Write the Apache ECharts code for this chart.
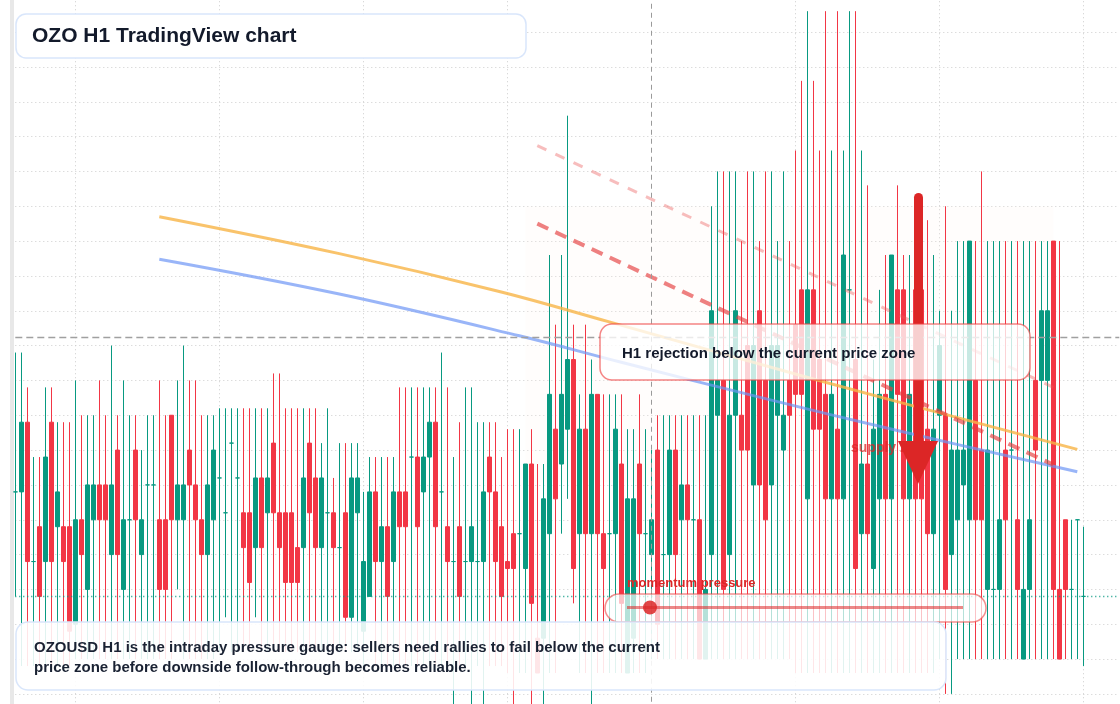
<!DOCTYPE html>
<html>
<head>
<meta charset="utf-8">
<title>OZO H1 TradingView chart</title>
<script src="https://cdn.jsdelivr.net/npm/echarts@6/dist/echarts.min.js"></script>
<style>
  html, body { margin: 0; padding: 0; background: #fff; }
  #chart { width: 1120px; height: 704px; }
</style>
</head>
<body>
<div id="chart"></div>
<script>
// OZOUSD H1 bars, [open, close, low, high] in price ticks
const candles = [
  [29,29,14,49],[29,39,4,49],[39,19,4,44],[19,19,4,34],[24,14,4,34],[19,34,4,44],[39,19,4,44],[24,29,4,39],
  [24,19,4,39],[24,9,4,39],[10,25,5,45],[25,20,5,40],[15,30,5,40],[25,30,5,40],[30,25,5,45],[30,25,5,40],
  [20,30,5,50],[35,20,5,40],[15,25,5,45],[25,25,5,40],[35,25,5,40],[20,25,5,35],[30,30,5,40],[30,30,5,40],
  [25,15,5,45],[25,15,5,40],[40,25,5,40],[25,30,15,45],[25,30,5,50],[35,30,5,45],[30,25,5,45],[25,20,5,40],
  [20,30,5,40],[25,35,5,40],[31,31,6,41],[26,26,11,41],[36,36,6,41],[31,31,6,41],[26,21,6,41],[26,16,6,41],
  [21,31,11,41],[31,21,6,41],[26,31,6,41],[36,26,6,46],[26,21,6,46],[26,16,6,41],[26,16,6,41],[21,16,6,41],
  [21,31,6,41],[36,26,6,41],[31,21,6,41],[21,31,6,36],[26,26,6,41],[26,21,6,31],[21,21,6,36],[26,11,6,36],
  [11,31,6,36],[26,31,6,36],[9,19,4,29],[14,29,14,34],[29,19,4,34],[19,24,4,34],[24,14,4,34],[19,29,4,34],
  [29,24,4,44],[29,24,4,44],[34,34,4,44],[34,24,4,44],[29,34,4,44],[34,39,4,44],[39,24,4,44],[29,29,4,49],
  [24,19,4,44],[19,19,-6,34],[24,14,4,39],[19,19,4,44],[19,24,-6,44],[19,19,4,39],[19,29,-6,39],[34,29,4,39],
  [29,19,4,39],[24,14,4,34],[19,18,3,38],[23,18,-2,38],[23,23,3,38],[18,33,3,33],[33,13,-2,38],[8,3,3,33],
  [8,28,-2,33],[23,43,3,63],[38,28,3,53],[33,43,23,63],[38,48,28,83],[48,18,13,53],[23,38,3,43],[38,23,3,53],
  [23,43,-2,48],[43,23,3,43],[23,18,3,43],[23,23,3,43],[23,38,3,43],[33,13,3,43],[3,28,3,38],[8,28,3,38],
  [33,23,3,43],[23,23,3,38],[20,25,5,35],[35,10,5,40],[20,20,5,40],[20,35,5,40],[35,20,5,40],[25,30,5,40],
  [30,25,5,40],[25,25,5,40],[25,5,5,40],[5,15,5,40],[20,55,5,70],[40,45,5,75],[45,15,5,75],[20,40,5,75],
  [40,55,5,75],[40,35,5,65],[50,35,5,75],[30,50,5,75],[55,30,5,65],[45,25,5,75],[30,50,5,75],[40,50,5,65],
  [35,40,5,75],[45,40,5,65],[53,43,3,78],[58,43,3,88],[28,58,3,98],[58,38,3,88],[48,38,3,78],[43,28,3,98],
  [28,43,3,78],[38,28,3,98],[28,63,3,78],[58,58,3,98],[48,18,3,98],[23,33,3,78],[33,23,3,73],[18,38,3,48],
  [28,43,3,58],[43,28,3,63],[28,63,3,63],[58,43,3,73],[58,28,3,63],[28,43,3,63],[58,28,3,68],[58,28,3,63],
  [38,23,3,68],[23,38,3,63],[40,50,5,55],[40,15,0,70],[20,35,0,55],[25,35,5,65],[30,35,5,65],[25,65,5,65],
  [45,25,5,65],[35,25,5,75],[15,35,5,65],[15,15,5,65],[15,25,5,65],[35,25,5,65],[35,35,5,65],[25,15,5,65],
  [5,15,5,65],[15,25,5,65],[45,35,5,65],[45,55,5,65],[45,55,5,65],[65,15,5,65],[15,5,5,65],[25,15,5,25],
  [15,15,5,25],[25,25,5,25],[14,14,4,24]
];

// moving averages, [bar index, price]
const emaFast = [[24, 68.5], [54, 63.2], [81, 57.7], [99, 53.4], [133, 45.2], [177, 35.1]];
const emaSlow = [[24, 62.4], [54, 57.4], [84, 51.4], [101, 47.6], [124, 42.6], [147, 37.8], [177, 31.9]];

// falling channel drawn over the supply area
const channelUpper = [[87, 78.7], [173, 44.0]];
const channelLower = [[87, 67.5], [173, 32.9]];
const supplyZone = [[85, 70], [173, 30.4]];

const crossIndex = 106;
const crossPrice = 51.2;
const lastClose = 14;
const SLOTS = 185;

const hours = [];
const t0 = Date.UTC(2024, 4, 6, 0);
for (let k = 0; k < SLOTS; k++) {
  const d = new Date(t0 + k * 3600000);
  hours.push(d.toISOString().slice(5, 13).replace('T', ' ') + ':00');
}

const UP = '#089981';
const DOWN = '#f23645';
const GRID = '#cdcdcd';
const FONT = '"Liberation Sans", Arial, Helvetica, sans-serif';

const bars = candles.map(function (c) {
  if (c[0] === c[1]) {
    return { value: c, itemStyle: { color: UP, borderColor: UP, color0: UP, borderColor0: UP } };
  }
  return c;
});

const chart = echarts.init(document.getElementById('chart'), null, { renderer: 'canvas' });

chart.setOption({
  animation: false,
  backgroundColor: '#ffffff',
  grid: { left: 15.3, right: 0.7, top: -2.75, bottom: -24.75, outerBoundsMode: 'none' },
  xAxis: {
    type: 'category',
    data: hours,
    boundaryGap: false,
    axisLine: { show: false },
    axisTick: { show: false },
    axisLabel: { show: false },
    splitLine: {
      show: true,
      interval: function (idx) { return idx % 24 === 10 && idx !== crossIndex; },
      lineStyle: { color: GRID, type: [1, 3], width: 1 }
    }
  },
  yAxis: {
    type: 'value',
    min: -5,
    max: 100,
    interval: 5,
    offset: 3.3,
    axisLine: { show: true, lineStyle: { color: '#e8e8e8', width: 4 } },
    axisTick: { show: false },
    axisLabel: { show: false },
    splitLine: { lineStyle: { color: GRID, type: [1, 3], width: 1 } }
  },
  series: [
    {
      type: 'candlestick',
      data: bars,
      barWidth: 4,
      z: 2,
      itemStyle: {
        color: UP, color0: DOWN,
        borderColor: UP, borderColor0: DOWN,
        borderWidth: 1
      },
      markLine: {
        silent: true,
        symbol: 'none',
        label: { show: false },
        data: [
          { xAxis: crossIndex, lineStyle: { color: '#9a9a9a', type: [5, 4], width: 1 } },
          { yAxis: crossPrice, lineStyle: { color: '#a0a0a0', type: [7, 4], width: 1.3 } },
          { yAxis: lastClose, lineStyle: { color: UP, type: [1, 3], width: 1.3 } }
        ]
      }
    },
    {
      type: 'line',
      data: [],
      z: 3,
      silent: true,
      markArea: {
        silent: true,
        itemStyle: { color: 'rgba(255, 244, 236, 0.16)' },
        data: [[{ coord: supplyZone[0] }, { coord: supplyZone[1] }]]
      }
    },
    {
      type: 'line', data: emaFast, smooth: 0.4, symbol: 'none', z: 4,
      lineStyle: { color: 'rgba(248, 180, 70, 0.8)', width: 3 }
    },
    {
      type: 'line', data: emaSlow, smooth: 0.4, symbol: 'none', z: 4,
      lineStyle: { color: 'rgba(110, 150, 245, 0.7)', width: 3 }
    },
    {
      type: 'line', data: channelUpper, symbol: 'none', z: 4,
      lineStyle: { color: 'rgba(236, 90, 90, 0.4)', width: 3, type: [10, 10] }
    },
    {
      type: 'line', data: channelLower, symbol: 'none', z: 4,
      lineStyle: { color: 'rgba(229, 62, 62, 0.65)', width: 4, type: [12, 8] }
    }
  ],
  graphic: {
    elements: [
      {
        type: 'rect', z: 100, silent: true,
        shape: { x: 16, y: 14, width: 510, height: 44, r: 10 },
        style: { fill: '#ffffff', stroke: '#d9e6fb', lineWidth: 1.5 }
      },
      {
        type: 'text', z: 101, silent: true, x: 32, y: 36,
        style: { text: 'OZO H1 TradingView chart', font: 'bold 21px ' + FONT, fill: '#131a2b', verticalAlign: 'middle' }
      },
      {
        type: 'text', z: 99, silent: true, x: 851, y: 448,
        style: { text: 'supply zone', font: 'bold 14px ' + FONT, fill: 'rgba(220, 38, 38, 0.75)', verticalAlign: 'middle' }
      },
      {
        type: 'rect', z: 100, silent: true,
        shape: { x: 914, y: 193, width: 9, height: 252, r: 4.5 },
        style: { fill: '#dc2626' }
      },
      {
        type: 'polygon', z: 100, silent: true,
        shape: { points: [[898, 441], [938, 441], [918, 484]] },
        style: { fill: '#dc2626' }
      },
      {
        type: 'rect', z: 100, silent: true,
        shape: { x: 600, y: 324, width: 430, height: 56, r: 12 },
        style: { fill: 'rgba(255, 255, 255, 0.78)', stroke: 'rgba(239, 68, 68, 0.65)', lineWidth: 1.5 }
      },
      {
        type: 'text', z: 101, silent: true, x: 622, y: 354,
        style: { text: 'H1 rejection below the current price zone', font: 'bold 15px ' + FONT, fill: '#131a2b', verticalAlign: 'middle' }
      },
      {
        type: 'text', z: 101, silent: true, x: 627, y: 583,
        style: { text: 'momentum pressure', font: 'bold 13px ' + FONT, fill: '#dc2626', verticalAlign: 'middle' }
      },
      {
        type: 'rect', z: 100, silent: true,
        shape: { x: 605, y: 594, width: 381, height: 28, r: 14 },
        style: { fill: 'rgba(255, 255, 255, 0.7)', stroke: 'rgba(239, 68, 68, 0.6)', lineWidth: 1.5 }
      },
      {
        type: 'line', z: 101, silent: true,
        shape: { x1: 627, y1: 607.5, x2: 963, y2: 607.5 },
        style: { stroke: 'rgba(220, 38, 38, 0.55)', lineWidth: 3 }
      },
      {
        type: 'circle', z: 102, silent: true,
        shape: { cx: 650, cy: 607.5, r: 7 },
        style: { fill: 'rgba(220, 38, 38, 0.85)' }
      },
      {
        type: 'rect', z: 100, silent: true,
        shape: { x: 16, y: 622, width: 930, height: 68, r: 12 },
        style: { fill: 'rgba(255, 255, 255, 0.88)', stroke: '#d9e6fb', lineWidth: 1.5 }
      },
      {
        type: 'text', z: 101, silent: true, x: 34, y: 648,
        style: { text: 'OZOUSD H1 is the intraday pressure gauge: sellers need rallies to fail below the current', font: 'bold 15px ' + FONT, fill: '#1a2233', verticalAlign: 'middle' }
      },
      {
        type: 'text', z: 101, silent: true, x: 34, y: 668,
        style: { text: 'price zone before downside follow-through becomes reliable.', font: 'bold 15px ' + FONT, fill: '#1a2233', verticalAlign: 'middle' }
      }
    ]
  }
});
</script>
</body>
</html>
